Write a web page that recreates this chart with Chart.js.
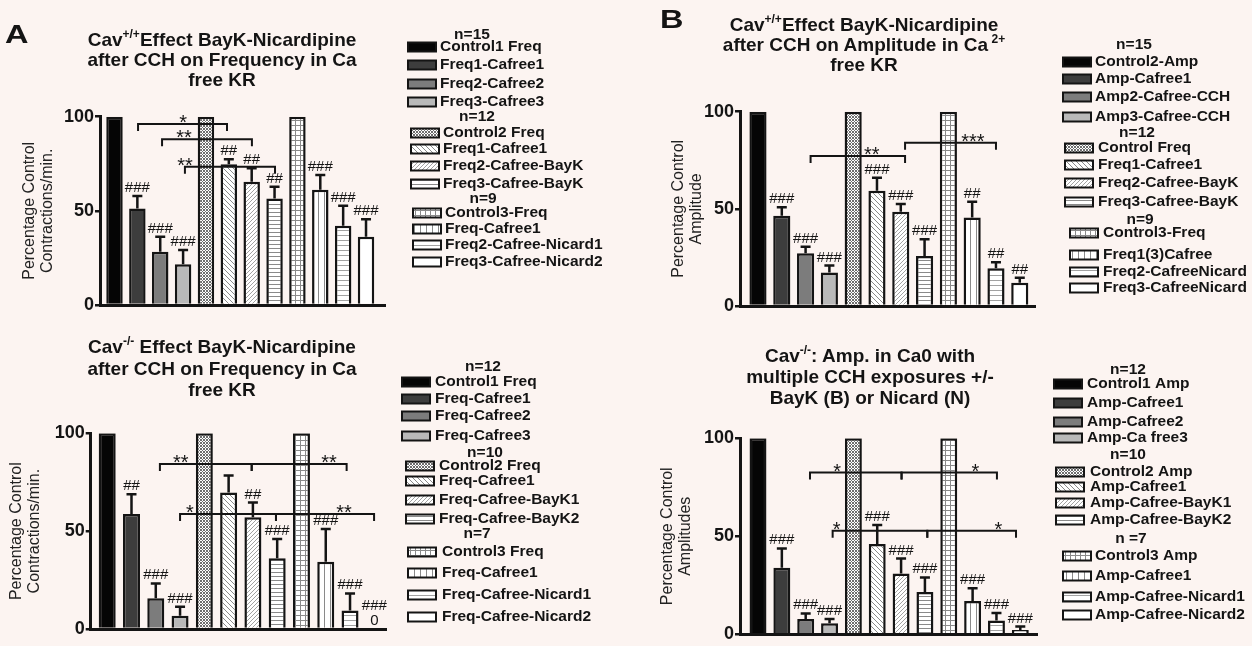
<!DOCTYPE html>
<html>
<head>
<meta charset="utf-8">
<title>Cav BayK-Nicardipine after CCH</title>
<script src="https://cdn.jsdelivr.net/npm/chart.js@4.4.1/dist/chart.umd.min.js"></script>
<style>
  html, body { margin: 0; padding: 0; }
  body {
    width: 1252px; height: 646px; position: relative; overflow: hidden;
    background: #fcf4f1; color: #141414;
    font-family: "Liberation Sans", Arial, sans-serif;
  }
  canvas { position: absolute; }
  .title {
    position: absolute; transform: translateX(-50%);
    text-align: center; white-space: nowrap;
    font-weight: bold; font-size: 19px;
  }
  .title sup { font-size: 12px; line-height: 0; vertical-align: 8px; }
  .letter {
    position: absolute; font-weight: bold; font-size: 26px; line-height: 26px;
    transform: scaleX(1.25); transform-origin: left top;
  }
</style>
</head>
<body>
<canvas id="freqWt" width="640" height="320" style="left:0;top:0"></canvas>
<canvas id="ampWt" width="612" height="320" style="left:640px;top:0"></canvas>
<canvas id="freqKo" width="640" height="326" style="left:0;top:320px"></canvas>
<canvas id="ampKo" width="612" height="326" style="left:640px;top:320px"></canvas>

<div class="letter" style="left:5px;top:21px">A</div>
<div class="letter" style="left:660px;top:6px">B</div>
<div class="title" style="left:222px;top:30px;line-height:20px">Cav<sup>+/+</sup>Effect BayK-Nicardipine<br>after CCH on Frequency in Ca<br>free KR</div>
<div class="title" style="left:864px;top:15px;line-height:20px">Cav<sup>+/+</sup>Effect BayK-Nicardipine<br>after CCH on Amplitude in Ca<sup> 2+</sup><br>free KR</div>
<div class="title" style="left:222px;top:336px;line-height:21.5px">Cav<sup>-/-</sup> Effect BayK-Nicardipine<br>after CCH on Frequency in Ca<br>free KR</div>
<div class="title" style="left:870px;top:345px;line-height:21px">Cav<sup>-/-</sup>: Amp. in Ca0 with<br>multiple CCH exposures +/-<br>BayK (B) or Nicard (N)</div>

<script>
/* ---------- data ---------- */

// Cav+/+ frequency
const freqWtLegend = ['Control1 Freq', 'Freq1-Cafree1', 'Freq2-Cafree2', 'Freq3-Cafree3',
    'Control2 Freq', 'Freq1-Cafree1', 'Freq2-Cafree-BayK', 'Freq3-Cafree-BayK',
    'Control3-Freq', 'Freq-Cafree1', 'Freq2-Cafree-Nicard1', 'Freq3-Cafree-Nicard2'];
const freqWtGroups = ['n=15', 'n=12', 'n=9'];
const freqWtValues = [100, 51.3, 28.3, 21.6, 100, 74.8, 65.5, 56.6, 100, 61.2, 42.1, 36.3];
const freqWtSem = [0, 6.6, 8, 7.6, 0, 2.6, 7.1, 6.2, 0, 7.8, 10.6, 9.3];
const freqWtMarks = ['', '###', '###', '###', '', '##', '##', '##', '', '###', '###', '###'];
// [from bar, to bar, y, label, label at]
const freqWtBrackets = [
    [1.03, 4.92, 96.1, '*', 3.0],
    [2.08, 6.01, 88, '**', 3.04],
    [3.08, 7.02, 73.4, '**', 3.08]
];

// Cav+/+ amplitude
const ampWtLegend = ['Control2-Amp', 'Amp-Cafree1', 'Amp2-Cafree-CCH', 'Amp3-Cafree-CCH',
    'Control Freq', 'Freq1-Cafree1', 'Freq2-Cafree-BayK', 'Freq3-Cafree-BayK',
    'Control3-Freq', 'Freq1(3)Cafree', 'Freq2-CafreeNicard', 'Freq3-CafreeNicard'];
const ampWtGroups = ['n=15', 'n=12', 'n=9'];
const ampWtValues = [100, 46.5, 27.1, 17.2, 100, 59.3, 48.5, 25.7, 100, 45.6, 19.4, 12];
const ampWtSem = [0, 4.3, 3.4, 3.6, 0, 6.7, 4, 8.6, 0, 8.1, 3.1, 2.6];
const ampWtMarks = ['', '###', '###', '###', '', '###', '###', '###', '', '##', '##', '##'];
const ampWtBrackets = [
    [2.21, 6.18, 77.2, '**', 4.78],
    [6.18, 10.0, 84, '***', 9.03]
];

// Cav-/- frequency
const freqKoLegend = ['Control1 Freq', 'Freq-Cafree1', 'Freq-Cafree2', 'Freq-Cafree3',
    'Control2 Freq', 'Freq-Cafree1', 'Freq-Cafree-BayK1', 'Freq-Cafree-BayK2',
    'Control3 Freq', 'Freq-Cafree1', 'Freq-Cafree-Nicard1', 'Freq-Cafree-Nicard2'];
const freqKoGroups = ['n=12', 'n=10', 'n=7'];
const freqKoValues = [100, 58.8, 15.7, 6.8, 100, 69.7, 57.1, 36.1, 100, 34.4, 9.4, 0];
const freqKoSem = [0, 10, 7.6, 4.6, 0, 8.7, 7.5, 9.9, 0, 16.7, 8.8, 0];
const freqKoMarks = ['', '##', '###', '###', '', '', '##', '###', '', '###', '###', '###\n0'];
const freqKoBrackets = [
    [2.17, 5.95, 84.3, '**', 3.03],
    [5.95, 9.86, 84.3, '**', 9.13],
    [3.0, 6.95, 58.8, '*', 3.41],
    [6.95, 10.99, 58.8, '**', 9.75]
];

// Cav-/- amplitude
const ampKoLegend = ['Control1 Amp', 'Amp-Cafree1', 'Amp-Cafree2', 'Amp-Ca free3',
    'Control2 Amp', 'Amp-Cafree1', 'Amp-Cafree-BayK1', 'Amp-Cafree-BayK2',
    'Control3 Amp', 'Amp-Cafree1', 'Amp-Cafree-Nicard1', 'Amp-Cafree-Nicard2'];
const ampKoGroups = ['n=12', 'n=10', 'n =7'];
const ampKoValues = [100, 33.9, 7.8, 5.6, 100, 46, 31, 21.6, 100, 16.9, 7, 2.1];
const ampKoSem = [0, 9.9, 2.8, 2.2, 0, 9.8, 7.6, 7.4, 0, 6.5, 3.8, 1.8];
const ampKoMarks = ['', '###', '###', '###', '', '###', '###', '###', '', '###', '###', '###'];
const ampKoBrackets = [
    [2.18, 6.02, 82.5, '*', 3.32],
    [6.02, 10.02, 82.5, '*', 9.12],
    [3.13, 7.1, 52.8, '*', 3.3],
    [7.1, 10.82, 52.8, '*', 10.08]
];

/* ---------- styling ---------- */

const ink = '#141414';
const family = '"Liberation Sans", Arial, sans-serif';
Chart.defaults.font.family = family;

// one fill per bar position, same in every panel
const fills = ['black', 'dark', 'mid', 'light', 'cross', 'back', 'fwd', 'hlines', 'grid', 'vlines', 'hlines2', 'white'];

function makeFill(kind) {
    const solid = { black: '#050505', dark: '#3d3d3d', mid: '#7c7c7c', light: '#b9b9b9', white: '#ffffff' };
    if (solid[kind]) return solid[kind];
    const size = { cross: 3, back: 5, fwd: 4, hlines: 4, grid: 5, vlines: 6, hlines2: 5 }[kind];
    const c = document.createElement('canvas');
    c.width = c.height = size;
    const g = c.getContext('2d');
    g.fillStyle = '#ffffff';
    g.fillRect(0, 0, size, size);
    g.fillStyle = kind === 'cross' ? '#6e6e6e' : (kind === 'fwd' || kind === 'hlines2' ? '#a2a2a2' : '#8a8a8a');
    for (let i = 0; i < size; i++) {
        if (kind === 'cross' || kind === 'back') g.fillRect(i, i, 1, 1);
        if (kind === 'cross' || kind === 'fwd') g.fillRect(size - 1 - i, i, 1, 1);
    }
    if (kind === 'hlines' || kind === 'hlines2' || kind === 'grid') g.fillRect(0, 0, size, 1);
    if (kind === 'vlines' || kind === 'grid') g.fillRect(0, 0, 1, size);
    return g.createPattern(c, 'repeat');
}

const freqTitle = ['Percentage Control', 'Contractions/min.'];

const panels = [
    {
        id: 'freqWt', legend: freqWtLegend, groups: freqWtGroups, values: freqWtValues, sem: freqWtSem,
        marks: freqWtMarks, brackets: freqWtBrackets, yTitle: freqTitle, titlePad: 20.7,
        area: { left: 100, right: 385, top: 116.7, bottom: 305 }, xRange: [-0.634, 11.83], barPct: 0.72,
        key: {
            rows: [35, 47, 65, 84, 102, 117, 133, 149, 166, 184, 199, 213, 229, 245, 262],
            swatchX: [408, 411, 413], textX: [440, 443, 445], headerX: [472, 477, 483]
        }
    },
    {
        id: 'ampWt', legend: ampWtLegend, groups: ampWtGroups, values: ampWtValues, sem: ampWtSem,
        marks: ampWtMarks, brackets: ampWtBrackets, yTitle: ['Percentage Control', 'Amplitude'], titlePad: 30,
        area: { left: 100, right: 395, top: 111.7, bottom: 306 }, xRange: [-0.756, 11.64], barPct: 0.72,
        key: {
            rows: [45, 62, 79, 97, 117, 133, 148, 165, 183, 202, 220, 233, 255, 272, 288],
            swatchX: [423, 425, 430], textX: [455, 458, 463], headerX: [494, 497, 500]
        }
    },
    {
        id: 'freqKo', legend: freqKoLegend, groups: freqKoGroups, values: freqKoValues, sem: freqKoSem,
        marks: freqKoMarks, brackets: freqKoBrackets, yTitle: freqTitle, titlePad: 7.7,
        area: { left: 90.7, right: 386.7, top: 113.3, bottom: 309 }, xRange: [-0.68, 11.51], barPct: 0.7,
        key: {
            rows: [47, 62, 79, 96, 116, 133, 146, 161, 180, 199, 214, 232, 253, 275, 297],
            swatchX: [402, 406, 408], textX: [435, 439, 442], headerX: [483, 485, 477]
        }
    },
    {
        id: 'ampKo', legend: ampKoLegend, groups: ampKoGroups, values: ampKoValues, sem: ampKoSem,
        marks: ampKoMarks, brackets: ampKoBrackets, yTitle: ['Percentage Control', 'Amplitudes'], titlePad: 19,
        area: { left: 100, right: 397, top: 118.3, bottom: 316 }, xRange: [-0.755, 11.7], barPct: 0.71,
        key: {
            rows: [50, 64, 83, 102, 118, 135, 152, 167, 183, 200, 219, 236, 256, 277, 295],
            swatchX: [414, 416, 423], textX: [447, 450, 455], headerX: [488, 488, 491]
        }
    }
];

/* ---------- error bars, ### marks, brackets and the grouped key ---------- */

function decor(p) {
    return {
        id: 'decor',
        afterDatasetsDraw(chart) {
            const { ctx, scales: { x, y } } = chart;
            const bars = chart.getDatasetMeta(0).data;
            ctx.save();
            ctx.strokeStyle = ink;
            ctx.fillStyle = ink;
            ctx.textAlign = 'center';
            ctx.textBaseline = 'alphabetic';

            bars.forEach((bar, i) => {
                const top = y.getPixelForValue(p.values[i] + p.sem[i]);
                if (p.sem[i] > 0) {
                    ctx.lineWidth = 2.5;
                    ctx.beginPath();
                    ctx.moveTo(bar.x, bar.y);
                    ctx.lineTo(bar.x, top);
                    ctx.moveTo(bar.x - 5, top);
                    ctx.lineTo(bar.x + 5, top);
                    ctx.stroke();
                }
                if (!p.marks[i]) return;
                ctx.font = '15px ' + family;
                p.marks[i].split('\n').reverse().forEach((t, k) => {
                    ctx.fillText(t, bar.x, top - 4 - k * 15);
                });
            });

            ctx.lineWidth = 2;
            p.brackets.forEach(([a, b, v, label, at]) => {
                const x1 = x.getPixelForValue(a);
                const x2 = x.getPixelForValue(b);
                const yy = y.getPixelForValue(v);
                ctx.beginPath();
                ctx.moveTo(x1, yy + 7);
                ctx.lineTo(x1, yy);
                ctx.lineTo(x2, yy);
                ctx.lineTo(x2, yy + 7);
                ctx.stroke();
                ctx.font = '20px ' + family;
                ctx.fillText(label, x.getPixelForValue(at), yy + 5);
            });
            ctx.restore();
        },
        afterDraw(chart) {
            const ctx = chart.ctx;
            const k = p.key;
            const bg = chart.data.datasets[0].backgroundColor;
            ctx.save();
            ctx.font = 'bold 15.5px ' + family;
            ctx.textBaseline = 'middle';
            let row = 0;
            p.groups.forEach((head, g) => {
                ctx.fillStyle = ink;
                ctx.textAlign = 'center';
                ctx.fillText(head, k.headerX[g], k.rows[row++]);
                ctx.textAlign = 'left';
                for (let j = 0; j < 4; j++) {
                    const i = g * 4 + j;
                    const yy = k.rows[row++];
                    ctx.fillStyle = bg[i];
                    ctx.fillRect(k.swatchX[g], yy - 4.5, 28, 9);
                    ctx.strokeStyle = ink;
                    ctx.lineWidth = 2;
                    ctx.strokeRect(k.swatchX[g], yy - 4.5, 28, 9);
                    ctx.fillStyle = ink;
                    ctx.fillText(p.legend[i], k.textX[g], yy);
                }
            });
            ctx.restore();
        }
    };
}

function buildChart(p) {
    const canvas = document.getElementById(p.id);
    const W = canvas.width, H = canvas.height;
    return new Chart(canvas, {
        type: 'bar',
        data: {
            datasets: [{
                data: p.values.map((v, i) => ({ x: i, y: v })),
                backgroundColor: fills.map(makeFill),
                borderColor: ink,
                borderWidth: 2.5,
                barPercentage: p.barPct,
                categoryPercentage: 1
            }]
        },
        options: {
            responsive: false,
            animation: false,
            devicePixelRatio: 1,
            layout: {
                padding: { left: 0, top: p.area.top, right: W - p.area.right, bottom: H - p.area.bottom }
            },
            plugins: { legend: { display: false }, tooltip: { enabled: false } },
            scales: {
                x: {
                    type: 'linear',
                    offset: false,
                    min: p.xRange[0],
                    max: p.xRange[1],
                    // one (hidden) tick per bar so the bar width follows the bar spacing
                    afterBuildTicks: s => { s.ticks = p.values.map((v, i) => ({ value: i })); },
                    ticks: { display: false },
                    grid: { display: false },
                    border: { display: true, color: ink, width: 3 },
                    afterFit: s => { s.height = 0; }
                },
                y: {
                    min: 0,
                    max: 100,
                    ticks: { stepSize: 50, padding: 1, color: ink, font: { size: 18, weight: 'bold' } },
                    grid: { drawOnChartArea: false, drawTicks: true, tickLength: 5, color: ink, lineWidth: 2.5 },
                    border: { display: true, color: ink, width: 3 },
                    title: {
                        display: true,
                        text: p.yTitle,
                        color: '#222',
                        font: { size: 16, lineHeight: 1.1 },
                        padding: { top: p.titlePad, bottom: 0 }
                    },
                    afterFit: s => { s.width = p.area.left; }
                }
            }
        },
        plugins: [decor(p)]
    });
}

panels.forEach(buildChart);
</script>
</body>
</html>
